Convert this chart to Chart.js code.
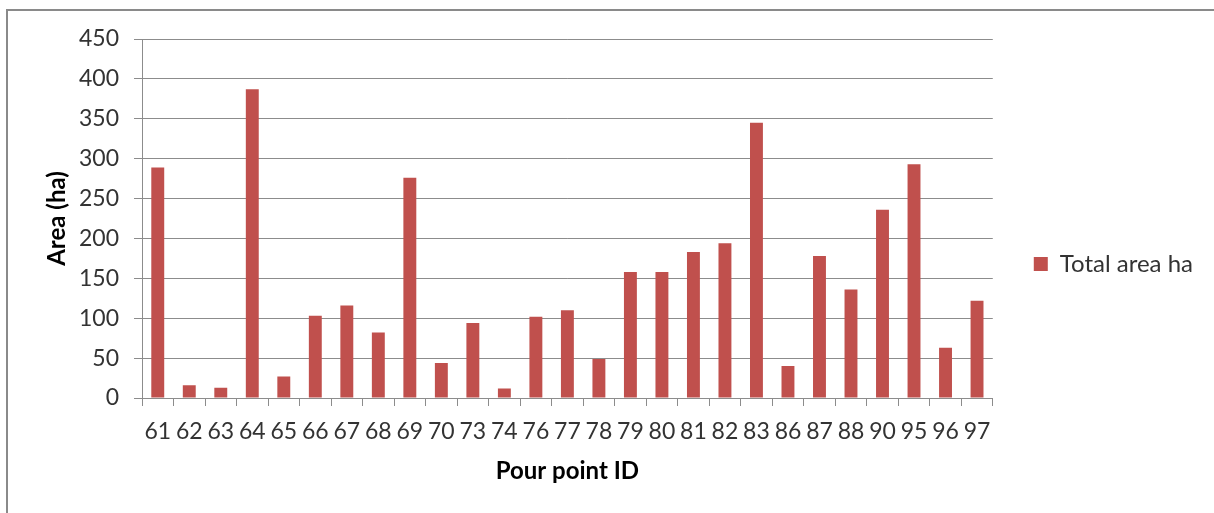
<!DOCTYPE html>
<html>
<head>
<meta charset="utf-8">
<title>Total area by pour point</title>
<script src="https://cdn.jsdelivr.net/npm/chart.js@4"></script>
<style>
  html, body { margin: 0; padding: 0; background: #fff; overflow: hidden; }
  .frame {
    position: absolute; left: 6px; top: 9px;
    width: 1300px; height: 600px;
    border: 2px solid #8a8a8a;
  }
  .wrap { position: absolute; left: 0; top: 0; width: 1214px; height: 513px; }
</style>
</head>
<body>
<div class="frame"></div>
<div class="wrap"><canvas id="areaChart"></canvas></div>
<script>
// Data
const pourPointIds = ['61', '62', '63', '64', '65', '66', '67', '68', '69', '70', '73', '74', '76', '77',
  '78', '79', '80', '81', '82', '83', '86', '87', '88', '90', '95', '96', '97'];
const totalAreaHa = [289, 16, 13, 387, 27, 103, 116, 82, 276, 44, 94, 12, 102, 110,
  49, 158, 158, 183, 194, 345, 40, 178, 136, 236, 293, 63, 122];
const areaTickMin = 0;
const areaTickMax = 450;
const areaTickStep = 50;

const gridGrey = '#8c8c8c';
const barRed = '#c0504d';

Chart.defaults.font.family = 'Lato, "Open Sans", sans-serif';

const ctx = document.getElementById('areaChart');

new Chart(ctx, {
  type: 'bar',
  data: {
    labels: pourPointIds,
    datasets: [
      {
        label: 'Total area ha',
        data: totalAreaHa,
        backgroundColor: barRed,
        borderWidth: 0,
        categoryPercentage: 1,
        barPercentage: 0.41
      }
    ]
  },
  options: {
    responsive: true,
    maintainAspectRatio: false,
    animation: false,
    layout: {
      padding: { top: 39, bottom: 24, left: 0, right: 11 }
    },
    scales: {
      x: {
        grid: {
          offset: true,
          drawOnChartArea: false,
          drawTicks: true,
          tickLength: 8,
          color: gridGrey
        },
        border: { display: true, color: gridGrey, width: 1 },
        ticks: {
          autoSkip: false,
          maxRotation: 0,
          minRotation: 0,
          padding: 12,
          color: '#333333',
          font: { size: 23 }
        },
        title: {
          display: true,
          text: 'Pour point ID',
          color: '#000000',
          font: { size: 24, weight: 'bold' },
          padding: { top: 0, bottom: 3 }
        },
        afterFit: (scale) => {
          scale.height = 91;
        }
      },
      y: {
        min: areaTickMin,
        max: areaTickMax,
        ticks: {
          stepSize: areaTickStep,
          padding: 15,
          color: '#333333',
          font: { size: 23 }
        },
        grid: {
          color: gridGrey,
          tickLength: 8
        },
        border: { display: true, color: gridGrey, width: 1 },
        title: {
          display: true,
          text: 'Area (ha)',
          color: '#000000',
          font: { size: 24, weight: 'bold' },
          padding: { top: 43, bottom: 0 }
        },
        afterFit: (scale) => {
          scale.width = 142;
        }
      }
    },
    plugins: {
      legend: {
        display: true,
        position: 'right',
        align: 'center',
        labels: {
          boxWidth: 14,
          boxHeight: 14,
          padding: 41,
          color: '#333333',
          font: { size: 24 }
        }
      },
      tooltip: { enabled: false }
    }
  }
});
</script>
</body>
</html>
